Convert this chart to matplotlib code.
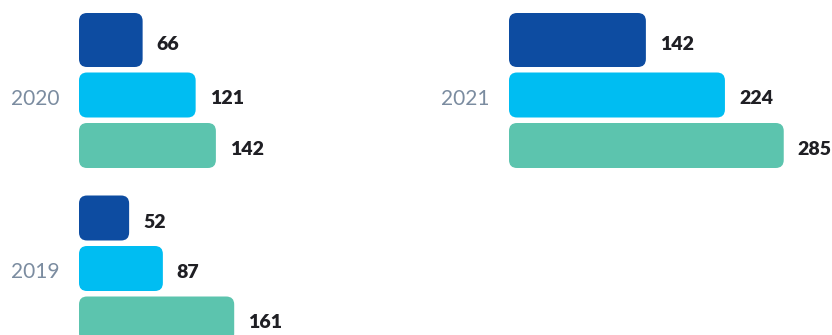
import matplotlib
matplotlib.use("Agg")
import matplotlib.pyplot as plt
from matplotlib.patches import FancyBboxPatch

# Values per year, three series each (top to bottom)
years = ["2020", "2021", "2019"]
values_2020 = [66, 121, 142]
values_2021 = [142, 224, 285]
values_2019 = [52, 87, 161]

series_colors = ["#0d4ca1", "#00bdf2", "#5cc4ae"]

W, H = 832, 335
fig = plt.figure(figsize=(W / 100, H / 100), dpi=100)
fig.patch.set_facecolor("white")

PX_PER_UNIT = 0.964   # horizontal scale of every panel
SLOT = 50.5           # vertical pitch between bars, px
BAR_PX = 45           # bar thickness, px
XMAX = 300
RADIUS_PX = 8

# (label, values, left edge px, centre of middle bar px from top, extra px on top of first bar)
panels = [
    ("2020", values_2020, 79, 95, 9),
    ("2021", values_2021, 509, 95, 9),
    ("2019", values_2019, 79, 268.5, 0),
]

for label, vals, left_px, mid_px, extra_px in panels:
    top_px = mid_px - 1.5 * SLOT
    ax = fig.add_axes([left_px / W, (H - top_px - 3 * SLOT) / H,
                       XMAX * PX_PER_UNIT / W, 3 * SLOT / H])
    ax.set_xlim(0, XMAX)
    ax.set_ylim(2.5, -0.5)
    ax.axis("off")

    unit_y = 1.0 / SLOT           # y data units per px
    unit_x = 1.0 / PX_PER_UNIT    # x data units per px
    aspect = unit_y / unit_x
    h = BAR_PX * unit_y

    for i, (v, c) in enumerate(zip(vals, series_colors)):
        extra = (extra_px if i == 0 else 0) * unit_y
        y0 = i - h / 2 - extra
        hh = h + extra
        patch = FancyBboxPatch((0, y0), v, hh,
                               boxstyle=f"round,pad=0,rounding_size={RADIUS_PX * unit_x}",
                               mutation_aspect=aspect,
                               facecolor=c, edgecolor="none", clip_on=False)
        ax.add_patch(patch)
        ax.annotate(str(v), xy=(v, y0 + hh / 2), xytext=(14, -4),
                    textcoords="offset pixels", ha="left", va="center",
                    fontsize=14, fontweight="heavy", color="#1f1f24",
                    family="Lato", annotation_clip=False)

    ax.annotate(label, xy=(0, 1), xytext=(-19, -4), textcoords="offset pixels",
                ha="right", va="center", fontsize=15, fontweight="normal",
                color="#7b8ca0", family="Lato", annotation_clip=False)

fig.savefig("out.png", dpi=100, facecolor="white")
